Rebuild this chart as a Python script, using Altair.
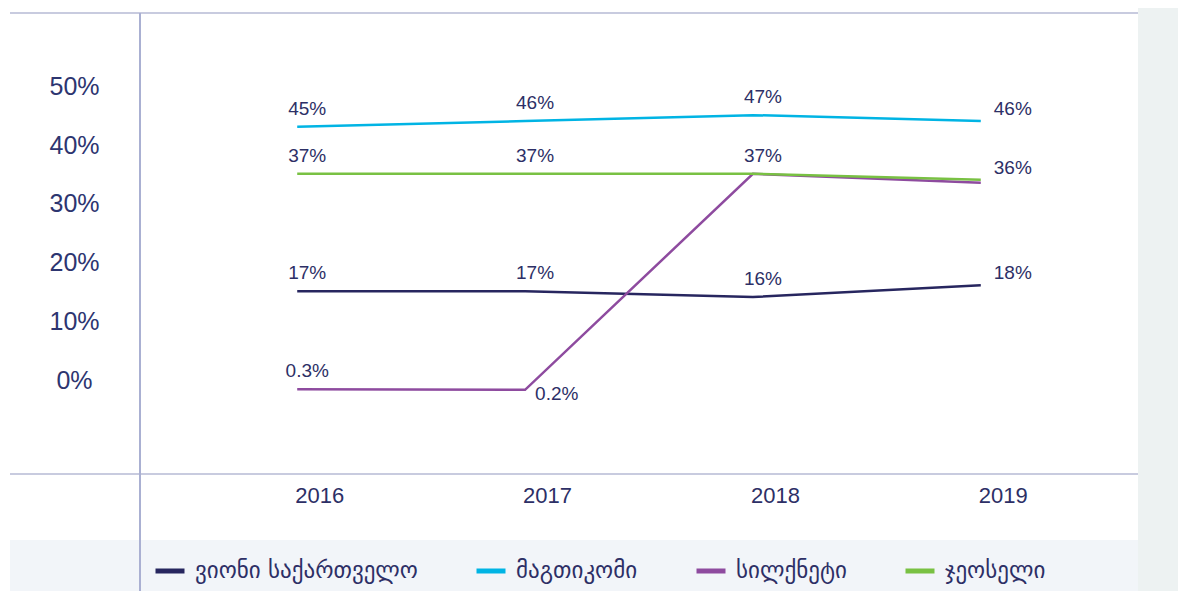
import altair as alt
import pandas as pd

years = ["2016", "2017", "2018", "2019"]
series = ["ვიონი საქართველო", "მაგთიკომი", "სილქნეტი", "ჯეოსელი"]
vion = [17, 17, 16, 18]
magti = [45, 46, 47, 46]
silknet = [0.3, 0.2, 37, 35.5]
geocell = [37, 37, 37, 36]
label_vion = ["17%", "17%", "16%", "18%"]
label_magti = ["45%", "46%", "47%", "46%"]
label_silknet = ["0.3%", "0.2%", "", ""]
label_geocell = ["37%", "37%", "37%", "36%"]
colors = ["#27265f", "#00b4e4", "#8e4b9f", "#79c143"]
y_ticks = [0, 10, 20, 30, 40, 50]

rows = []
for name, vals, labs in zip(series, [vion, magti, silknet, geocell],
                            [label_vion, label_magti, label_silknet, label_geocell]):
    for yr, v, lb in zip(years, vals, labs):
        rows.append({"year": yr, "series": name, "value": v, "label": lb})
df = pd.DataFrame(rows)

TEXT = "#2d2f66"
FONT = "Liberation Sans"
W, H = 998, 461

x_enc = alt.X("year:O", scale=alt.Scale(type="point", domain=years, padding=0.69),
              axis=alt.Axis(title=None, labelAngle=0, domain=False, ticks=False, grid=False,
                            labelFont=FONT, labelFontSize=22, labelColor=TEXT,
                            labelOffset=22, labelPadding=11))
y_enc = alt.Y("value:Q", scale=alt.Scale(domain=[-14.14, 64.4], nice=False, zero=False),
              axis=alt.Axis(title=None, values=y_ticks, labelExpr="datum.value + '%'",
                            domain=False, ticks=False, grid=False,
                            labelFont=FONT, labelFontSize=25, labelColor="#2d3570",
                            labelAlign="center", labelBaseline="middle",
                            labelPadding=66, labelOffset=-11))

base = alt.Chart(df)

lines = base.mark_line(strokeWidth=2.5).encode(
    x=x_enc, y=y_enc,
    color=alt.Color("series:N", scale=alt.Scale(domain=series, range=colors),
                    legend=alt.Legend(orient="none", legendX=13, legendY=541,
                                      direction="horizontal", columns=4, title=None,
                                      symbolType="stroke", symbolStrokeWidth=5,
                                      symbolSize=841, labelFont="DejaVu Sans",
                                      labelFontSize=23, labelColor=TEXT, labelLimit=0,
                                      columnPadding=48, labelOffset=8)),
    order=alt.Order("series:N"),
)

above = base.transform_filter(
    "datum.label != '' && datum.year != '2019' && !(datum.year == '2017' && datum.value < 1)"
).mark_text(font=FONT, fontSize=19, color=TEXT, dx=10, dy=-18).encode(
    x="year:O", y="value:Q", text="label:N")

right = base.transform_filter(
    "datum.label != '' && datum.year == '2019'"
).mark_text(font=FONT, fontSize=19, color=TEXT, align="left", dx=13, dy=-12).encode(
    x="year:O", y="value:Q", text="label:N")

low = base.transform_filter(
    "datum.year == '2017' && datum.value < 1"
).mark_text(font=FONT, fontSize=19, color=TEXT, align="left", dx=10, dy=4).encode(
    x="year:O", y="value:Q", text="label:N")

deco = alt.Chart(pd.DataFrame({"d": [0]}))
band = deco.mark_rect(color="#f2f5f9").encode(
    x=alt.value(-130), x2=alt.value(W), y=alt.value(527), y2=alt.value(585))
strip = deco.mark_rect(color="#edf2f2").encode(
    x=alt.value(W), x2=alt.value(W + 40), y=alt.value(-13), y2=alt.value(585))
top_rule = deco.mark_rule(color="#c8cbdf", strokeWidth=2).encode(
    x=alt.value(-130), x2=alt.value(W), y=alt.value(0))
bottom_rule = deco.mark_rule(color="#c8cbdf", strokeWidth=2).encode(
    x=alt.value(-130), x2=alt.value(W), y=alt.value(H))
vert_rule = deco.mark_rule(color="#aab0d2", strokeWidth=2).encode(
    x=alt.value(0), y=alt.value(0), y2=alt.value(585))

chart = alt.layer(band, strip, top_rule, bottom_rule, vert_rule, lines, above, right, low).properties(
    width=W, height=H,
    padding={"left": 132, "top": 5, "right": 40, "bottom": 117},
    autosize=alt.AutoSizeParams(type="none"),
).configure_view(stroke=None)

chart.save("out.html", embed_options={"renderer": "svg", "actions": False})
